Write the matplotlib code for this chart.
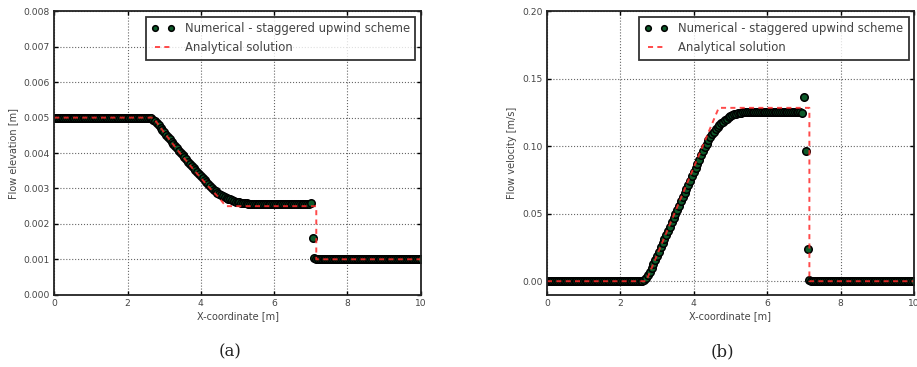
import numpy as np
import matplotlib
matplotlib.use("Agg")
import matplotlib.pyplot as plt

# ---------------- data ----------------
x_num = np.round(np.arange(0, 201) * 0.05, 2)

h_num = ([0.005] * 52 +
         [0.004993, 0.00498, 0.00494, 0.0049, 0.00484, 0.00478, 0.00472, 0.00465,
          0.00458, 0.00452, 0.00445, 0.00439, 0.00432, 0.00426, 0.00419, 0.00413,
          0.00406, 0.0040, 0.00394, 0.00388, 0.00382, 0.00375, 0.00369, 0.00363,
          0.00357, 0.00352, 0.00346, 0.0034, 0.00334, 0.00329, 0.00323, 0.00317,
          0.00312, 0.00306, 0.00301, 0.00296, 0.00292, 0.00288, 0.00285, 0.00281,
          0.00278, 0.00276, 0.00273, 0.00271, 0.00269, 0.00267, 0.00265, 0.00263,
          0.00262, 0.00261, 0.0026, 0.00259, 0.00258, 0.00258, 0.00257] +
         [0.00256] * 32 +
         [0.00256, 0.00258, 0.0016, 0.00105] +
         [0.001] * 58)

u_num = ([0.0] * 52 +
         [0.0003, 0.001, 0.0025, 0.0045, 0.007, 0.0098, 0.0127, 0.0157,
          0.0188, 0.0219, 0.025, 0.0281, 0.0312, 0.0343, 0.0374, 0.0405,
          0.0436, 0.0467, 0.0498, 0.0529, 0.056, 0.0591, 0.0622, 0.0653,
          0.0684, 0.0715, 0.0746, 0.0777, 0.0808, 0.0839, 0.087, 0.0901,
          0.0932, 0.0963, 0.0994, 0.102, 0.1045, 0.1067, 0.1088, 0.1107,
          0.1125, 0.1141, 0.1156, 0.117, 0.1183, 0.1195, 0.1206, 0.1215,
          0.1223, 0.123, 0.1236, 0.1241, 0.1245, 0.1248, 0.125] +
         [0.1254] * 32 +
         [0.1247, 0.1365, 0.0963, 0.0242] +
         [0.001] + [0.0] * 57)

assert len(h_num) == len(x_num) == len(u_num)

x_h_an = [0.0, 2.7, 3.0, 3.25, 3.5, 3.75, 4.0, 4.25, 4.5, 4.68, 7.15, 7.15, 10.0]
h_an = [0.005, 0.005, 0.004577, 0.004236, 0.003909, 0.003595, 0.003295,
        0.003006, 0.002733, 0.0025, 0.0025, 0.001, 0.001]

x_u_an = [0.0, 2.7, 4.68, 7.15, 7.15, 10.0]
u_an = [0.0, 0.0, 0.1285, 0.1285, 0.0, 0.0]

xticks = [0, 2, 4, 6, 8, 10]
h_ticks = [0.000, 0.001, 0.002, 0.003, 0.004, 0.005, 0.006, 0.007, 0.008]
u_ticks = [0.00, 0.05, 0.10, 0.15, 0.20]

lbl_num = "Numerical - staggered upwind scheme"
lbl_an = "Analytical solution"

# ---------------- figure ----------------
fig = plt.figure(figsize=(9.17, 3.67), dpi=100)
ax1 = fig.add_axes([0.0592, 0.197, 0.3996, 0.772])
ax2 = fig.add_axes([0.5965, 0.197, 0.4002, 0.772])

tc = "#444444"


def style(ax, yticks, yfmt, ylim, ylabel):
    ax.set_xlim(0, 10)
    ax.set_ylim(*ylim)
    ax.set_xticks(xticks)
    ax.set_xticklabels([str(t) for t in xticks])
    ax.set_yticks(yticks)
    ax.set_yticklabels([yfmt.format(t) for t in yticks])
    ax.tick_params(direction="in", top=True, right=True, length=3, width=1,
                   labelsize=6.6, labelcolor=tc, pad=3)
    ax.grid(True, linestyle=":", color="#666666", linewidth=0.8)
    for s in ax.spines.values():
        s.set_linewidth(1.3)
        s.set_color("#222222")
    ax.set_xlabel("X-coordinate [m]", fontsize=7, color=tc, labelpad=2)
    ax.set_ylabel(ylabel, fontsize=7, color=tc, labelpad=4)


mk = dict(linestyle="none", marker="o", markersize=5.4, markerfacecolor="#0d5a2a",
          markeredgecolor="black", markeredgewidth=1.1)
ln = dict(linestyle="--", color="#ff2a2a", linewidth=1.4, dashes=(2.6, 2.2), alpha=0.85)

ax1.plot(x_num, h_num, label=lbl_num, **mk)
ax1.plot(x_h_an, h_an, label=lbl_an, **ln)
style(ax1, h_ticks, "{:.3f}", (0, 0.008), "Flow elevation [m]")

ax2.plot(x_num, u_num, label=lbl_num, **mk)
ax2.plot(x_u_an, u_an, label=lbl_an, **ln)
style(ax2, u_ticks, "{:.2f}", (-0.01, 0.2), "Flow velocity [m/s]")

for ax in (ax1, ax2):
    leg = ax.legend(loc="upper right", fontsize=8.4, numpoints=2, fancybox=False,
                    frameon=True, borderaxespad=0.45, handlelength=2.0,
                    borderpad=0.45, labelspacing=0.55, handletextpad=0.9,
                    markerscale=0.75)
    leg.get_frame().set_edgecolor("black")
    leg.get_frame().set_linewidth(1.3)
    for t in leg.get_texts():
        t.set_color(tc)

fig.text(0.251, 0.04, "(a)", fontsize=12, family="DejaVu Serif", ha="center",
         va="center", color="#222222")
fig.text(0.788, 0.04, "(b)", fontsize=12, family="DejaVu Serif", ha="center",
         va="center", color="#222222")

fig.savefig("out.png", dpi=100)
